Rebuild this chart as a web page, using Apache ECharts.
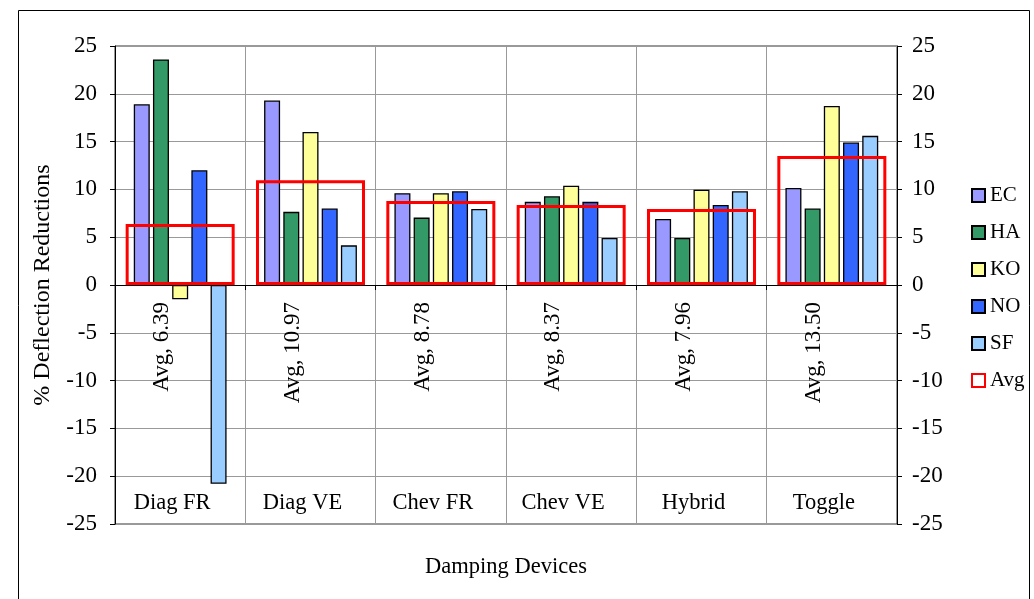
<!DOCTYPE html>
<html>
<head>
    <meta charset="utf-8"/>
    <title>ECharts</title>
    <script src="https://cdn.jsdelivr.net/npm/echarts@6/dist/echarts.min.js"></script>
</head>
<body style="margin:0;background:#fff">
<div id="main" style="width: 1034px; height: 599px"></div>
<script type="text/javascript">
    // damping devices on the category axis
    var devices = ['Diag FR', 'Diag VE', 'Chev FR', 'Chev VE', 'Hybrid', 'Toggle'];
    var yTicks = [-25, 25, 5];

    // % deflection reductions
    var EC = [18.9, 19.3, 9.6, 8.7, 6.9, 10.15];
    var HA = [23.6, 7.65, 7.05, 9.28, 4.92, 8.0];
    var KO = [-1.5, 16.0, 9.6, 10.38, 9.97, 18.73];
    var NO = [12.0, 8.0, 9.8, 8.7, 8.38, 14.9];
    var SF = [-20.8, 4.15, 7.95, 4.92, 9.8, 15.6];
    var AVG = [6.39, 10.97, 8.78, 8.37, 7.96, 13.50];

    var font = 'Liberation Serif';
    var myChart = echarts.init(document.getElementById('main'));

    function barSeries(name, data, color) {
        return {
            name: name,
            type: 'bar',
            xAxisIndex: 0,
            yAxisIndex: 0,
            barWidth: 16,
            barGap: '20%',
            data: data,
            itemStyle: {color: color, borderColor: '#000', borderWidth: 1.3},
            z: 2
        };
    }

    var yAxisBase = function (pos) {
        return {
            type: 'value',
            position: pos,
            min: yTicks[0],
            max: yTicks[1],
            interval: yTicks[2],
            axisLine: {show: true, lineStyle: {color: '#000', width: 1}},
            axisTick: {show: true, length: 5, lineStyle: {color: '#000'}},
            axisLabel: {color: '#000', fontFamily: font, fontSize: 23, margin: pos === 'left' ? 18 : 15},
            splitLine: {show: pos === 'left', lineStyle: {color: '#999', width: 1}}
        };
    };

    var left = yAxisBase('left');
    left.name = '% Deflection Reductions';
    left.nameLocation = 'middle';
    left.nameGap = 60;
    left.nameTextStyle = {color: '#000', fontFamily: font, fontSize: 24};

    var option = {
        animation: false,
        grid: {left: 115, right: 137, top: 46, bottom: 75, show: true, borderColor: '#333', borderWidth: 1},
        legend: {
            orient: 'vertical',
            left: 966,
            top: 180,
            itemWidth: 13,
            itemHeight: 13,
            itemGap: 16,
            icon: 'rect',
            textStyle: {color: '#000', fontFamily: font, fontSize: 21},
            data: ['EC', 'HA', 'KO', 'NO', 'SF', 'Avg']
        },
        xAxis: [
            {
                type: 'category',
                data: devices,
                axisLine: {onZero: true, lineStyle: {color: '#000', width: 1}},
                axisTick: {show: true, length: 5, inside: false, lineStyle: {color: '#000'}},
                axisLabel: {show: false},
                splitLine: {show: true, lineStyle: {color: '#999', width: 1}}
            },
            {
                type: 'category',
                data: devices,
                position: 'bottom',
                axisLine: {show: false, onZero: false},
                axisTick: {show: false},
                axisLabel: {inside: true, margin: 9, padding: [0, 16, 0, 0], color: '#000', fontFamily: font, fontSize: 22.5},
                splitLine: {show: false},
                name: 'Damping Devices',
                nameLocation: 'middle',
                nameGap: 32,
                nameTextStyle: {color: '#000', fontFamily: font, fontSize: 22.5}
            }
        ],
        yAxis: [left, yAxisBase('right')],
        series: [
            barSeries('EC', EC, '#9999FF'),
            barSeries('HA', HA, '#339966'),
            barSeries('KO', KO, '#FFFF99'),
            barSeries('NO', NO, '#3366FF'),
            barSeries('SF', SF, '#99CCFF'),
            {
                name: 'Avg',
                type: 'bar',
                xAxisIndex: 1,
                yAxisIndex: 0,
                barWidth: 109,
                data: AVG,
                itemStyle: {color: 'rgba(255,255,255,0)', borderColor: '#FF0000', borderWidth: 3},
                label: {
                    show: true,
                    position: ['50%', '100%'],
                    rotate: 90,
                    align: 'right',
                    verticalAlign: 'middle',
                    // offset is in the rotated frame: [-down, right]
                    offset: [-17, -18],
                    color: '#000',
                    fontFamily: font,
                    fontSize: 23,
                    formatter: function (p) { return 'Avg, ' + p.value.toFixed(2); }
                },
                z: 3
            }
        ],
        graphic: [{
            type: 'rect',
            shape: {x: 18.5, y: 10.5, width: 1011, height: 700},
            style: {fill: 'none', stroke: '#000', lineWidth: 1},
            silent: true
        }]
    };

    myChart.setOption(option);
</script>
</body>
</html>
